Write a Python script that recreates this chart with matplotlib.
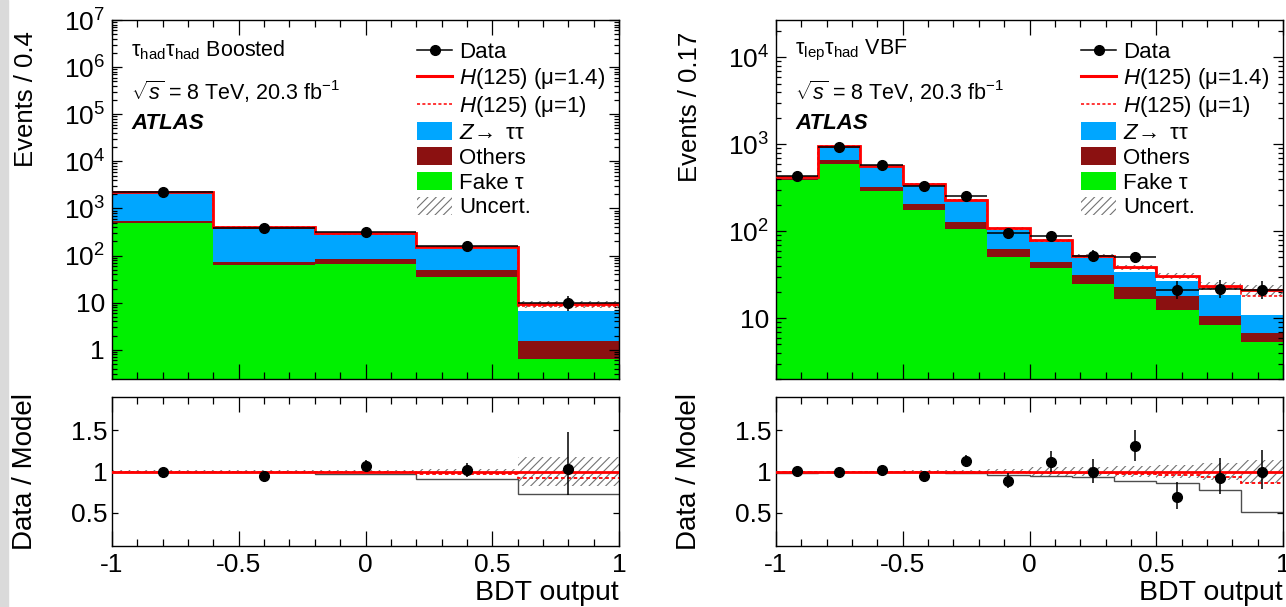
import numpy as np
import matplotlib
matplotlib.use("Agg")
import matplotlib.pyplot as plt
from matplotlib.patches import Patch, Rectangle
from matplotlib.lines import Line2D
from matplotlib.ticker import (FixedLocator, LogLocator, MultipleLocator,
                               FuncFormatter, NullFormatter)

plt.rcParams["font.family"] = ["Liberation Sans", "DejaVu Sans"]
plt.rcParams["mathtext.fontset"] = "custom"
plt.rcParams["mathtext.rm"] = "Liberation Sans"
plt.rcParams["mathtext.it"] = "Liberation Sans:italic"
plt.rcParams["mathtext.bf"] = "Liberation Sans:bold"
plt.rcParams["axes.unicode_minus"] = False
plt.rcParams["hatch.linewidth"] = 0.8

# tau_had tau_had boosted (5 bins)
hh_edges = [-1.0, -0.6, -0.2, 0.2, 0.6, 1.0]
hh_fake = [500, 62, 66, 35, 0.65]
hh_others = [50, 10, 19, 15, 0.9]
hh_ztt = [1640, 326, 201, 91, 5.25]
hh_sig = [10, 2, 9, 14, 2.6]          # H(125), mu = 1.4
hh_data = [2200, 380, 316, 157, 9.7]
hh_data_lo = [47, 19, 18, 12.5, 3.0]
hh_data_hi = [48, 20, 19, 13.5, 4.2]
hh_unc = [0.015, 0.015, 0.02, 0.03, 0.17]

# tau_lep tau_had VBF (12 bins)
lh_edges = [-1.0, -0.833, -0.667, -0.5, -0.333, -0.167, 0.0,
            0.167, 0.333, 0.5, 0.667, 0.833, 1.0]
lh_fake = [385, 588, 294, 178, 107, 50, 37.4, 24.9, 16.6, 12.5, 8.4, 5.4]
lh_others = [12, 65, 31, 26, 22, 12.5, 7.3, 6.4, 6.2, 5.3, 2.3, 1.3]
lh_ztt = [20, 289, 230, 142, 95.5, 41.2, 30.1, 17.4, 11.5, 8.7, 7.6, 4.2]
lh_sig = [8, 8, 5, 4, 3.5, 4.3, 3.9, 3.7, 4.4, 4.3, 5.3, 10.3]
lh_data = [428, 940, 572, 333, 257, 96, 88, 52.4, 50.7, 21.3, 21.8, 21.2]
lh_data_lo = [20.5, 30.5, 24, 18, 16, 9.8, 9.4, 7.2, 7.1, 4.5, 4.6, 4.5]
lh_data_hi = [21.5, 31.5, 24.5, 18.8, 16.5, 10.3, 9.9, 7.8, 7.6, 5.6, 5.7, 5.6]
lh_unc = [0.01, 0.01, 0.01, 0.015, 0.02, 0.03, 0.05, 0.06, 0.07, 0.08, 0.10, 0.14]

MU = 1.4
C_Z = "#00a6ff"
C_OTH = "#8b1111"
C_FAKE = "#00f000"
C_HATCH = "0.45"
DASH = (0, (2, 1.5))


def logfmt(v, pos):
    if v < 1.5:
        return "1"
    if v < 15:
        return "10"
    return "$10^{%d}$" % int(round(np.log10(v)))


def draw(ax, axr, edges, fake, others, ztt, sig, data, dlo, dhi, unc,
         ylim, ylabel, chan):
    edges = np.array(edges)
    fake, others, ztt, sig = map(np.array, (fake, others, ztt, sig))
    data, dlo, dhi, unc = map(np.array, (data, dlo, dhi, unc))
    centers = 0.5 * (edges[1:] + edges[:-1])
    halfw = 0.5 * np.diff(edges)

    s1 = fake
    s2 = s1 + others
    s3 = s2 + ztt
    total = s3 + sig
    total_mu1 = s3 + sig / MU

    # stacked backgrounds
    ax.stairs(s1, edges, baseline=1e-3, fill=True, color=C_FAKE, zorder=1)
    ax.stairs(s2, edges, baseline=s1, fill=True, color=C_OTH, zorder=1)
    ax.stairs(s3, edges, baseline=s2, fill=True, color=C_Z, zorder=1)
    ax.stairs(total * (1 + unc), edges, baseline=total * (1 - unc), fill=True,
              facecolor="none", edgecolor=C_HATCH, hatch="////", lw=0, zorder=2)
    ax.stairs(total_mu1, edges, baseline=None, color="red", lw=1.1, ls=DASH, zorder=3)
    ax.stairs(total, edges, baseline=None, color="red", lw=2.0, zorder=3)
    ax.errorbar(centers, data, xerr=halfw, yerr=[dlo, dhi], fmt="o", color="black",
                ms=7, elinewidth=1.1, capsize=0, zorder=5)

    ax.set_yscale("log")
    ax.set_xlim(-1, 1)
    ax.set_ylim(*ylim)
    ax.yaxis.set_major_locator(LogLocator(base=10, numticks=20))
    ax.yaxis.set_minor_locator(LogLocator(base=10, subs=np.arange(2, 10), numticks=20))
    ax.yaxis.set_major_formatter(FuncFormatter(logfmt))
    ax.yaxis.set_minor_formatter(NullFormatter())
    ax.set_ylabel(ylabel, fontsize=18.5, loc="top")
    ax.yaxis.set_label_coords(-0.145, 0.968)

    # ratio panel
    r_mu1 = total_mu1 / total
    r_bkg = s3 / total
    axr.stairs(1 + unc, edges, baseline=1 - unc, fill=True, facecolor="none",
               edgecolor=C_HATCH, hatch="////", lw=0, zorder=1)
    axr.stairs(r_bkg, edges, baseline=None, color="0.3", lw=1.0, zorder=2)
    axr.stairs(r_mu1, edges, baseline=None, color="red", lw=1.3, ls=DASH, zorder=3)
    axr.axhline(1.0, color="red", lw=2.0, zorder=3)
    axr.errorbar(centers, data / total, yerr=[dlo / total, dhi / total], fmt="o",
                 color="black", ms=7, elinewidth=1.1, capsize=0, zorder=5)
    axr.set_xlim(-1, 1)
    axr.set_ylim(0.1, 1.9)
    axr.yaxis.set_major_locator(FixedLocator([0.5, 1.0, 1.5]))
    axr.yaxis.set_major_formatter(FuncFormatter(lambda v, p: "%g" % v))
    axr.set_ylabel("Data / Model", fontsize=20)
    axr.yaxis.set_label_coords(-0.145, 0.5)
    axr.set_xlabel("BDT output", fontsize=20.5, loc="right", labelpad=2)

    for a in (ax, axr):
        a.xaxis.set_major_locator(MultipleLocator(0.5))
        a.xaxis.set_minor_locator(MultipleLocator(0.1))
        a.xaxis.set_major_formatter(FuncFormatter(lambda v, p: "%g" % v))
        a.tick_params(which="both", direction="in", top=True, right=True,
                      labelsize=19, width=0.9)
        a.tick_params(axis="x", which="major", length=11, pad=5)
        a.tick_params(axis="x", which="minor", length=5)
        for sp in a.spines.values():
            sp.set_linewidth(1.0)
    ax.tick_params(axis="y", which="major", length=7.5, pad=5)
    ax.tick_params(axis="y", which="minor", length=3.8)
    axr.tick_params(axis="y", which="major", length=4, pad=3)
    ax.tick_params(axis="x", labelbottom=False)

    # channel text
    ax.text(0.038, 0.915, chan, transform=ax.transAxes, fontsize=15.5, va="center")
    ax.text(0.038, 0.80, r"$\sqrt{s}$ = 8 TeV, 20.3 fb$^{\mathregular{-1}}$",
            transform=ax.transAxes, fontsize=15.5, va="center")
    ax.text(0.038, 0.712, "ATLAS", transform=ax.transAxes, fontsize=16,
            fontweight="bold", style="italic", va="center")

    handles = [
        Line2D([], [], color="black", marker="o", ms=7, lw=1.1),
        Line2D([], [], color="red", lw=2.2),
        Line2D([], [], color="red", lw=1.1, ls=DASH),
        Patch(facecolor=C_Z, edgecolor="none"),
        Patch(facecolor=C_OTH, edgecolor="none"),
        Patch(facecolor=C_FAKE, edgecolor="none"),
        Patch(facecolor="none", edgecolor=C_HATCH, hatch="////", lw=0),
    ]
    labels = ["Data", "$H$(125) (μ=1.4)", "$H$(125) (μ=1)", r"$Z\!\rightarrow$ ττ",
              "Others", "Fake τ", "Uncert."]
    ax.legend(handles, labels, loc="upper left", bbox_to_anchor=(0.602, 0.94),
              frameon=False, fontsize=16, borderpad=0, borderaxespad=0,
              handlelength=1.58, handleheight=0.86, handletextpad=0.32,
              labelspacing=0.14)


W, H = 1286, 607
fig = plt.figure(figsize=(W / 100, H / 100), dpi=100)
fig.patches.append(Rectangle((0, 0), 8 / W, 1, transform=fig.transFigure,
                             color="#dadada", zorder=0))

def box(x0, y0, x1, y1):
    return [x0 / W, 1 - y1 / H, (x1 - x0) / W, (y1 - y0) / H]

ax1 = fig.add_axes(box(112, 20, 619, 379))
ax1r = fig.add_axes(box(112, 397, 619, 546))
ax2 = fig.add_axes(box(776, 20, 1283, 379))
ax2r = fig.add_axes(box(776, 397, 1283, 546))

draw(ax1, ax1r, hh_edges, hh_fake, hh_others, hh_ztt, hh_sig, hh_data,
     hh_data_lo, hh_data_hi, hh_unc, (0.24, 1e7), "Events / 0.4",
     r"$\mathregular{τ_{had}τ_{had}}$ Boosted")
draw(ax2, ax2r, lh_edges, lh_fake, lh_others, lh_ztt, lh_sig, lh_data,
     lh_data_lo, lh_data_hi, lh_unc, (2.0, 2.7e4), "Events / 0.17",
     r"$\mathregular{τ_{lep}τ_{had}}$ VBF")

fig.savefig("out.png", dpi=100)
